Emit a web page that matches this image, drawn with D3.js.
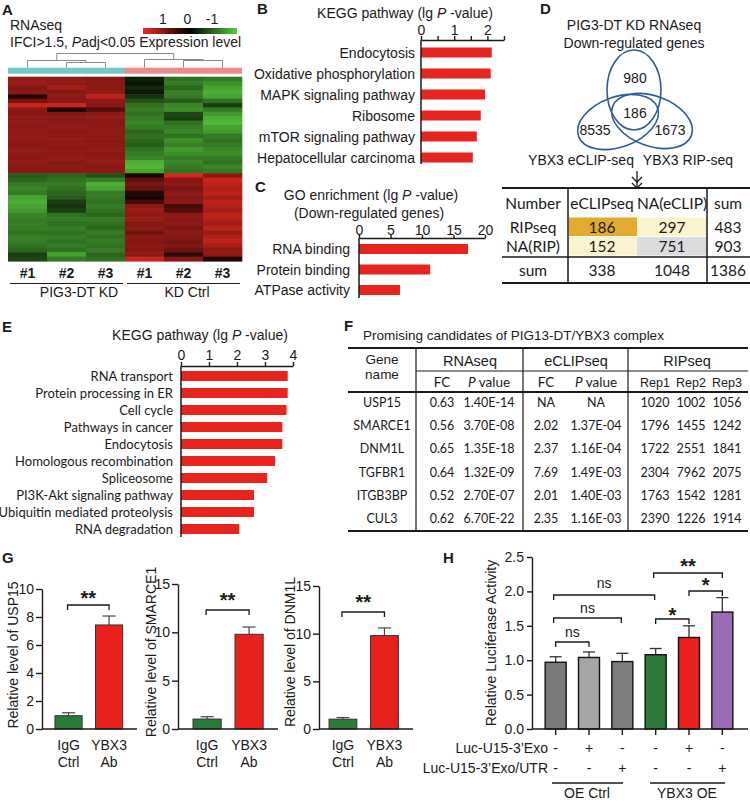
<!DOCTYPE html>
<html><head><meta charset="utf-8">
<script src="https://cdn.jsdelivr.net/npm/d3@7"></script>
<style>body{margin:0;background:#fff} svg{display:block}</style>
</head><body><svg id="c" width="750" height="803"></svg>
<script>
// ---------------- DATA ----------------
const heatCols = ["#1","#2","#3","#1","#2","#3"];
const heatGroups = ["PIG3-DT KD","KD Ctrl"];
const colorbarTicks = [1,0,-1];
// rows: [KD#1,KD#2,KD#3,Ctrl#1,Ctrl#2,Ctrl#3]
const heatUp = [
 [0.62,0.6,0.55,-0.15,-0.55,-0.6],[0.65,0.62,0.58,-0.1,-0.6,-0.7],[0.55,0.7,0.6,-0.2,-0.5,-0.8],
 [0.6,0.55,0.62,-0.12,-0.62,-0.85],[0.15,0.6,0.8,-0.25,-0.6,-0.8],[0.5,0.58,0.6,-0.4,-0.45,-0.55],
 [0.85,0.85,0.58,-0.55,-0.65,-0.3],[0.6,0.1,0.35,-0.6,-0.7,-0.6],[0.58,0.55,0.6,-0.55,-0.35,-0.75],
 [0.6,0.58,0.62,-0.6,-0.3,-0.85],[0.62,0.6,0.58,-0.65,-0.55,-0.9],[0.58,0.62,0.6,-0.6,-0.6,-0.8],
 [0.6,0.58,0.62,-0.5,-0.65,-0.75],[0.62,0.6,0.6,-0.55,-0.55,-0.6],[0.6,0.62,0.58,-0.5,-0.7,-0.55],
 [0.58,0.6,0.6,-0.45,-0.62,-0.6],[0.62,0.58,0.62,-0.55,-0.75,-0.65],[0.6,0.6,0.58,-0.6,-0.7,-0.7],
 [0.58,0.62,0.6,-0.65,-0.6,-0.6],[0.62,0.58,0.62,-0.85,-0.65,-0.55],[0.6,0.6,0.58,-0.9,-0.6,-0.65],
 [0.55,0.58,0.6,-0.8,-0.55,-0.6]
];
const heatDown = [
 [-0.45,-0.5,-0.4,0.1,0.9,0.6],[-0.5,-0.55,-0.6,0.4,0.55,0.85],[-0.6,-0.6,-0.85,0.5,0.6,0.8],
 [-0.65,-0.55,-0.8,0.45,0.5,0.75],[-0.6,-0.5,-0.6,0.15,0.6,0.8],[-0.8,-0.45,-0.6,0.1,0.55,0.7],
 [-0.85,-0.3,-0.55,0.3,0.6,0.8],[-0.8,-0.25,-0.6,0.6,0.3,0.75],[-0.75,-0.3,-0.55,0.65,0.35,0.7],
 [-0.65,-0.55,-0.5,0.6,0.6,0.8],[-0.6,-0.6,-0.6,0.65,0.55,0.75],[-0.62,-0.55,-0.55,0.55,0.6,0.7],
 [-0.6,-0.6,-0.5,0.6,0.5,0.8],[-0.55,-0.55,-0.6,0.45,0.6,0.65],[-0.62,-0.6,-0.55,0.6,0.55,0.75],
 [-0.6,-0.55,-0.6,0.55,0.5,0.8],[-0.55,-0.6,-0.55,0.6,0.55,0.7],[-0.5,-0.55,-0.6,0.55,0.45,0.6],
 [-0.3,-0.8,-0.5,0.6,0.2,0.6],[-0.35,-0.6,-0.55,0.85,0.55,0.15]
];
// dendrogram: [height, left, right]; leaves are column indices
const dendroTree = [0.7, [0.35, 0, [0.25, 1, 2]], [0.4, 3, [0.35, 4, 5]]];

const keggB = ["Endocytosis","Oxidative phosphorylation","MAPK signaling pathway","Ribosome","mTOR signaling pathway","Hepatocellular carcinoma"];
const keggBVal = [2.13,2.10,1.93,1.80,1.68,1.56];
const keggBTicks = [0,0.5,1,1.5,2,2.5];

const goC = ["RNA binding","Protein binding","ATPase activity"];
const goCVal = [17.3,11.3,6.5];
const goCTicks = [0,5,10,15,20];

const vennNumbers = ["980","186","8535","1673"];
const vennSets = ["YBX3 eCLIP-seq","YBX3 RIP-seq"];
const tableDHeader = ["Number","eCLIPseq","NA(eCLIP)","sum"];
const tableDRows = [["RIPseq","186","297","483"],["NA(RIP)","152","751","903"],["sum","338","1048","1386"]];

const keggE = ["RNA transport","Protein processing in ER","Cell cycle","Pathways in cancer","Endocytosis","Homologous recombination","Spliceosome","PI3K-Akt signaling pathway","Ubiquitin mediated proteolysis","RNA degradation"];
const keggEVal = [3.81,3.81,3.77,3.62,3.62,3.36,3.08,2.61,2.61,2.08];
const keggETicks = [0,1,2,3,4];

const fGenes = ["USP15","SMARCE1","DNM1L","TGFBR1","ITGB3BP","CUL3"];
const fRnaFC = ["0.63","0.56","0.65","0.64","0.52","0.62"];
const fRnaP = ["1.40E-14","3.70E-08","1.35E-18","1.32E-09","2.70E-07","6.70E-22"];
const fClipFC = ["NA","2.02","2.37","7.69","2.01","2.35"];
const fClipP = ["NA","1.37E-04","1.16E-04","1.49E-03","1.40E-03","1.16E-03"];
const fRep1 = ["1020","1796","1722","2304","1763","2390"];
const fRep2 = ["1002","1455","2551","7962","1542","1226"];
const fRep3 = ["1056","1242","1841","2075","1281","1914"];

const gGroups = ["IgG Ctrl","YBX3 Ab"];
const gTargets = ["USP15","SMARCE1","DNM1L"];
const gMeans = [[0.95,7.43],[1.03,9.8],[1.03,9.8]];
const gErrTop = [[1.16,8.07],[1.27,10.55],[1.2,10.6]];
const gTicks = [[0,2,4,6,8,10],[0,5,10,15],[0,5,10,15]];

const hMeans = [0.97,1.04,0.98,1.08,1.33,1.70];
const hErrTop = [1.05,1.12,1.10,1.17,1.50,1.91];
const hTicks = [0,0.5,1,1.5,2,2.5];
const hExo = ["-","+","-","-","+","-"];
const hUtr = ["-","-","+","-","-","+"];
const hGroups = ["OE Ctrl","YBX3 OE"];

// ---------------- DRAWING ----------------
const FA = "'Liberation Sans', Arial, sans-serif";
const FC = "Lato, 'Open Sans', sans-serif";
const INK = "#1a1a1a";
const RED = "#e8241f";
const svg = d3.select("#c");

function txt(x, y, s, o = {}) {
  const t = svg.append("text").attr("x", x).attr("y", y)
    .attr("font-size", o.size || 14).attr("text-anchor", o.anchor || "start")
    .attr("font-family", o.font || FA).attr("fill", o.fill || INK);
  if (o.weight) t.attr("font-weight", o.weight);
  if (o.rotate) t.attr("transform", `rotate(${o.rotate},${x},${y})`);
  if (Array.isArray(s)) {
    s.forEach(p => { const ts = t.append("tspan").text(p[0]); if (p[1]) ts.attr("font-style", "italic"); });
  } else t.text(s);
  return t;
}
function line(x1, y1, x2, y2, w = 1.5, c = INK) {
  svg.append("line").attr("x1", x1).attr("y1", y1).attr("x2", x2).attr("y2", y2)
    .attr("stroke", c).attr("stroke-width", w);
}
function styleAxis(g, size = 14, font = FA) {
  g.selectAll("path,line").attr("stroke", INK).attr("stroke-width", 1.4);
  g.selectAll("text").attr("font-size", size).attr("font-family", font).attr("fill", INK);
}
function bracket(x1, x2, y, label, ly, o = {}) {
  svg.append("path").attr("d", `M${x1},${y + 5}V${y}H${x2}V${y + 5}`)
    .attr("fill", "none").attr("stroke", INK).attr("stroke-width", 1.3);
  txt((x1 + x2) / 2, ly, label, { anchor: "middle", size: o.size || 14, weight: o.weight });
}

// panel letters
[["A",2,15],["B",257,14],["C",255,192],["D",540,14],["E",2,332],["F",344,331],["G",2,563],["H",443,563]]
  .forEach(d => txt(d[1], d[2], d[0], { size: 15, weight: "bold" }));

// ===== A: heatmap =====
txt(10, 30, "RNAseq");
txt(10, 47, [["IFCI>1.5, ", false], ["P", true], ["adj<0.05 Expression level", false]]);
const heatColor = d3.scaleLinear().domain([-1, 0, 1]).range(["#58cc3c", "#000000", "#ec2a22"]);
const grad = svg.append("defs").append("linearGradient").attr("id", "cb");
[["0%", 1], ["50%", 0], ["100%", -1]].forEach(s => grad.append("stop").attr("offset", s[0]).attr("stop-color", heatColor(s[1])));
svg.append("rect").attr("x", 143).attr("y", 28).attr("width", 94).attr("height", 6).attr("fill", "url(#cb)");
const cbScale = d3.scaleLinear().domain([1, -1]).range([163, 212]);
colorbarTicks.forEach(t => txt(cbScale(t), 24, String(t), { anchor: "middle" }));

const heatRows = heatUp.concat(heatDown);
const hx = d3.scaleBand().domain(d3.range(6)).range([8, 242]);
const hy = d3.scaleBand().domain(d3.range(heatRows.length)).range([76.7, 261]);
heatRows.forEach((row, ri) => row.forEach((v, ci) => {
  svg.append("rect").attr("x", hx(ci)).attr("y", hy(ri)).attr("width", hx.bandwidth() + 0.3)
    .attr("height", hy.bandwidth() + 0.6).attr("fill", heatColor(v));
}));
svg.append("rect").attr("x", hx(0)).attr("y", 67.7).attr("width", hx.bandwidth() * 3).attr("height", 6).attr("fill", "#72c9c7");
svg.append("rect").attr("x", hx(3)).attr("y", 67.7).attr("width", hx.bandwidth() * 3).attr("height", 6).attr("fill", "#ec8c8b");
const dY = d3.scaleLinear().domain([0, 1]).range([67.5, 47.5]);
function dendro(node) {
  if (typeof node === "number") return { x: hx(node) + hx.bandwidth() / 2, y: dY(0) };
  const a = dendro(node[1]), b = dendro(node[2]), y = dY(node[0]);
  svg.append("path").attr("d", `M${a.x},${a.y}V${y}H${b.x}V${b.y}`).attr("fill", "none").attr("stroke", "#8a8a8a").attr("stroke-width", 1);
  return { x: (a.x + b.x) / 2, y };
}
dendro(dendroTree);
heatCols.forEach((c, i) => txt(hx(i) + hx.bandwidth() / 2, 278, c, { anchor: "middle", weight: "bold" }));
line(10, 283.5, 123, 283.5, 1.2); line(127, 283.5, 240, 283.5, 1.2);
txt(79, 297, heatGroups[0], { anchor: "middle" });
txt(187, 297, heatGroups[1], { anchor: "middle" });

// ===== generic horizontal bar chart =====
function hbar(names, vals, ticks, xr, yr, axisY, axisBottom, labelX, o) {
  const x = d3.scaleLinear().domain([ticks[0], ticks[ticks.length - 1]]).range(xr);
  const y = d3.scalePoint().domain(names).range(yr);
  names.forEach((n, i) => {
    svg.append("rect").attr("x", x(0)).attr("y", y(n) - o.bh / 2).attr("width", x(vals[i]) - x(0)).attr("height", o.bh).attr("fill", RED);
    txt(labelX, y(n) + 5, n, { anchor: "end", font: o.font || FA, size: o.lsize || 14 });
  });
  const g = svg.append("g").attr("transform", `translate(0,${axisY})`)
    .call(d3.axisTop(x).tickValues(ticks).tickSize(o.ts).tickSizeOuter(0).tickPadding(o.tp)
      .tickFormat(d => Number.isInteger(d) ? d : ""));
  styleAxis(g);
  line(x(0), axisY, x(0), axisBottom, 1.5);
  return x;
}
// ===== B =====
txt(405, 18, [["KEGG pathway (lg ", false], ["P", true], [" -value)", false]], { anchor: "middle" });
hbar(keggB, keggBVal, keggBTicks, [421, 504], [52.5, 157.5], 40, 164, 415, { bh: 10, ts: 4, tp: 1 });
// ===== C =====
txt(371, 200, [["GO  enrichment (lg ", false], ["P", true], [" -value)", false]], { anchor: "middle" });
txt(369, 218, "(Down-regulated genes)", { anchor: "middle" });
hbar(goC, goCVal, goCTicks, [359, 485], [249, 290], 238, 298, 350, { bh: 10, ts: 3, tp: 0 });

// ===== D =====
txt(634, 30, "PIG3-DT KD RNAseq", { anchor: "middle" });
txt(634, 48, "Down-regulated genes", { anchor: "middle" });
const vennBlue = "#2f5c9e";
[[634, 90, 27, 40, 0], [618, 122, 42, 25, -20], [652, 121, 42, 25, 20]].forEach(e => {
  svg.append("ellipse").attr("cx", 0).attr("cy", 0).attr("rx", e[2]).attr("ry", e[3])
    .attr("transform", `translate(${e[0]},${e[1]}) rotate(${e[4]})`)
    .attr("fill", "none").attr("stroke", vennBlue).attr("stroke-width", 1.6);
});
[[635, 83], [635, 118], [595, 135], [670, 135]].forEach((p, i) => txt(p[0], p[1], vennNumbers[i], { anchor: "middle" }));
txt(581, 165, vennSets[0], { anchor: "middle" });
txt(688, 165, vennSets[1], { anchor: "middle" });
line(637, 171, 637, 188, 1.3);
svg.append("path").attr("d", "M632,177L637,182L642,177M632,183L637,188L642,183").attr("fill", "none").attr("stroke", INK).attr("stroke-width", 1.3);

const dColX = [533, 602, 672, 728];
const dRowY = [203, 227, 246, 270];
const dCellFill = [[null, "#e3aa2f", "#fbf3cd", null], [null, "#fbf3cd", "#dcdcdf", null]];
dCellFill.forEach((r, ri) => r.forEach((f, ci) => {
  if (!f) return;
  const x0 = ci === 1 ? 569 : 637, x1 = ci === 1 ? 637 : 707;
  svg.append("rect").attr("x", x0).attr("y", ri === 0 ? 217.5 : 237).attr("width", x1 - x0).attr("height", 18.5).attr("fill", f);
}));
tableDHeader.forEach((h, i) => txt(dColX[i], dRowY[0] + 5.5, h, { anchor: "middle", font: FC, size: 15.5 }));
tableDRows.forEach((r, ri) => r.forEach((v, ci) => txt(dColX[ci], dRowY[ri + 1] + 5.5, v, { anchor: "middle", font: FC, size: 15.5 })));
line(502, 188, 750, 188, 2); line(502, 257, 750, 257, 1.5); line(502, 283, 750, 283, 2);
line(568, 188, 568, 283, 1.5); line(707, 188, 707, 283, 1.5);

// ===== E =====
txt(200, 340, [["KEGG pathway (lg ", false], ["P", true], [" -value)", false]], { anchor: "middle" });
hbar(keggE, keggEVal, keggETicks, [181, 293], [376, 529], 366, 537, 173, { bh: 10, ts: 4, tp: 2, font: FC, lsize: 13 });

// ===== F =====
txt(363, 340, "Promising candidates of PIG13-DT/YBX3 complex", { size: 13.5 });
line(348, 348, 748, 348, 2); line(416, 371, 748, 371, 1.2); line(348, 392, 748, 392, 2); line(348, 531, 748, 531, 2);
[416, 523, 628].forEach(x => line(x, 348, x, 531, 1.2));
txt(382, 364, "Gene", { anchor: "middle", size: 13.5 });
txt(382, 379, "name", { anchor: "middle", size: 13.5 });
[["RNAseq", 470], ["eCLIPseq", 576], ["RIPseq", 687]].forEach(d => txt(d[1], 366, d[0], { anchor: "middle", size: 14.5 }));
const fColX = [442, 489, 546, 596, 655, 691, 727];
const fSub = [[["FC", false]], [["P", true], [" value", false]], [["FC", false]], [["P", true], [" value", false]], [["Rep1", false]], [["Rep2", false]], [["Rep3", false]]];
fSub.forEach((s, i) => txt(fColX[i], 387, s, { anchor: "middle", font: i >= 4 ? FA : FC, size: i >= 4 ? 12.5 : 13.5 }));
const fCols = [fRnaFC, fRnaP, fClipFC, fClipP, fRep1, fRep2, fRep3];
const fy = d3.scalePoint().domain(fGenes).range([407, 523]);
fGenes.forEach((g, ri) => {
  txt(382, fy(g), g, { anchor: "middle", font: FC, size: 12.5 });
  fCols.forEach((col, ci) => txt(fColX[ci], fy(g), col[ri], { anchor: "middle", font: FC, size: 12.5 }));
});

// ===== G =====
const gLayout = [
  { ax: 42, xe: 137, r: [48.1, 129.5], top: 589, lx: 18, ly: 655, br: 605, bl: 604.5 },
  { ax: 178, xe: 278, r: [185.9, 270.3], top: 584, lx: 156, ly: 652, br: 610, bl: 606.5 },
  { ax: 319, xe: 413, r: [322, 405.4], top: 586, lx: 295, ly: 652, br: 612, bl: 609 }
];
const gFill = ["#2a7b37", "#e8211d"];
gTargets.forEach((t, k) => {
  const L = gLayout[k];
  const x = d3.scaleBand().domain(gGroups).range(L.r).paddingInner(0.33).paddingOuter(0.17);
  const y = d3.scaleLinear().domain([0, gTicks[k][gTicks[k].length - 1]]).range([729, L.top]);
  gGroups.forEach((g, i) => {
    const cx = x(g) + x.bandwidth() / 2;
    line(cx, y(gMeans[k][i]), cx, y(gErrTop[k][i]), 1.2, "#444");
    line(cx - 6.5, y(gErrTop[k][i]), cx + 6.5, y(gErrTop[k][i]), 1.2, "#444");
    svg.append("rect").attr("x", x(g)).attr("y", y(gMeans[k][i])).attr("width", x.bandwidth())
      .attr("height", y(0) - y(gMeans[k][i])).attr("fill", gFill[i]).attr("stroke", "#333").attr("stroke-width", 1);
    const parts = g.split(" ");
    txt(cx, 750, parts[0], { anchor: "middle" });
    txt(cx, 767, parts[1], { anchor: "middle" });
  });
  const ga = svg.append("g").attr("transform", `translate(${L.ax},0)`)
    .call(d3.axisLeft(y).tickValues(gTicks[k]).tickSize(6).tickSizeOuter(0).tickPadding(2));
  styleAxis(ga);
  line(L.ax, 729, L.xe, 729, 1.4);
  txt(L.lx, L.ly, "Relative level of " + t, { anchor: "middle", rotate: -90 });
  const c0 = x(gGroups[0]) + x.bandwidth() / 2 - 1, c1 = x(gGroups[1]) + x.bandwidth() / 2;
  bracket(c0, c1, L.br, "**", L.bl, { size: 20, weight: "bold" });
});

// ===== H =====
const hx2 = d3.scaleBand().domain(d3.range(6)).range([539, 739]).paddingInner(0.37).paddingOuter(0.185);
const hy2 = d3.scaleLinear().domain([0, 2.5]).range([729, 557]);
const hFill = ["#7b7b7b", "#a5a5a5", "#7e7e7e", "#2b7a39", "#e8211d", "#9a6cb3"];
const hc = i => hx2(i) + hx2.bandwidth() / 2;
hMeans.forEach((m, i) => {
  line(hc(i), hy2(m), hc(i), hy2(hErrTop[i]), 1.3, "#333");
  line(hc(i) - 6, hy2(hErrTop[i]), hc(i) + 6, hy2(hErrTop[i]), 1.3, "#333");
  svg.append("rect").attr("x", hx2(i)).attr("y", hy2(m)).attr("width", hx2.bandwidth())
    .attr("height", hy2(0) - hy2(m)).attr("fill", hFill[i]).attr("stroke", "#111").attr("stroke-width", 1.4);
  line(hc(i), 729, hc(i), 735, 1.4);
  txt(hc(i), 753, hExo[i], { anchor: "middle" });
  txt(hc(i), 773, hUtr[i], { anchor: "middle" });
});
const ha = svg.append("g").attr("transform", "translate(532,0)")
  .call(d3.axisLeft(hy2).tickValues(hTicks).tickSize(5).tickSizeOuter(0).tickPadding(3).tickFormat(d3.format(".1f")));
styleAxis(ha);
line(532, 729, 748, 729, 1.4);
txt(496, 643, "Relative Luciferase Activity", { anchor: "middle", rotate: -90 });
txt(548, 753, "Luc-U15-3’Exo", { anchor: "end" });
txt(548, 773, "Luc-U15-3’Exo/UTR", { anchor: "end" });
line(552, 783, 623, 783, 1.3); line(650, 783, 725, 783, 1.3);
txt(587, 798, hGroups[0], { anchor: "middle" });
txt(687, 798, hGroups[1], { anchor: "middle" });
bracket(hc(0), hc(1), 642, "ns", 637);
bracket(hc(0) - 2, hc(2) - 1, 618, "ns", 613);
bracket(hc(0) - 2, hc(3) - 1, 595, "ns", 588);
bracket(hc(3), hc(4), 619, "*", 622, { size: 20, weight: "bold" });
bracket(hc(4), hc(5), 591, "*", 592, { size: 20, weight: "bold" });
bracket(hc(3) - 2, hc(5), 573, "**", 573, { size: 20, weight: "bold" });
</script></body></html>
